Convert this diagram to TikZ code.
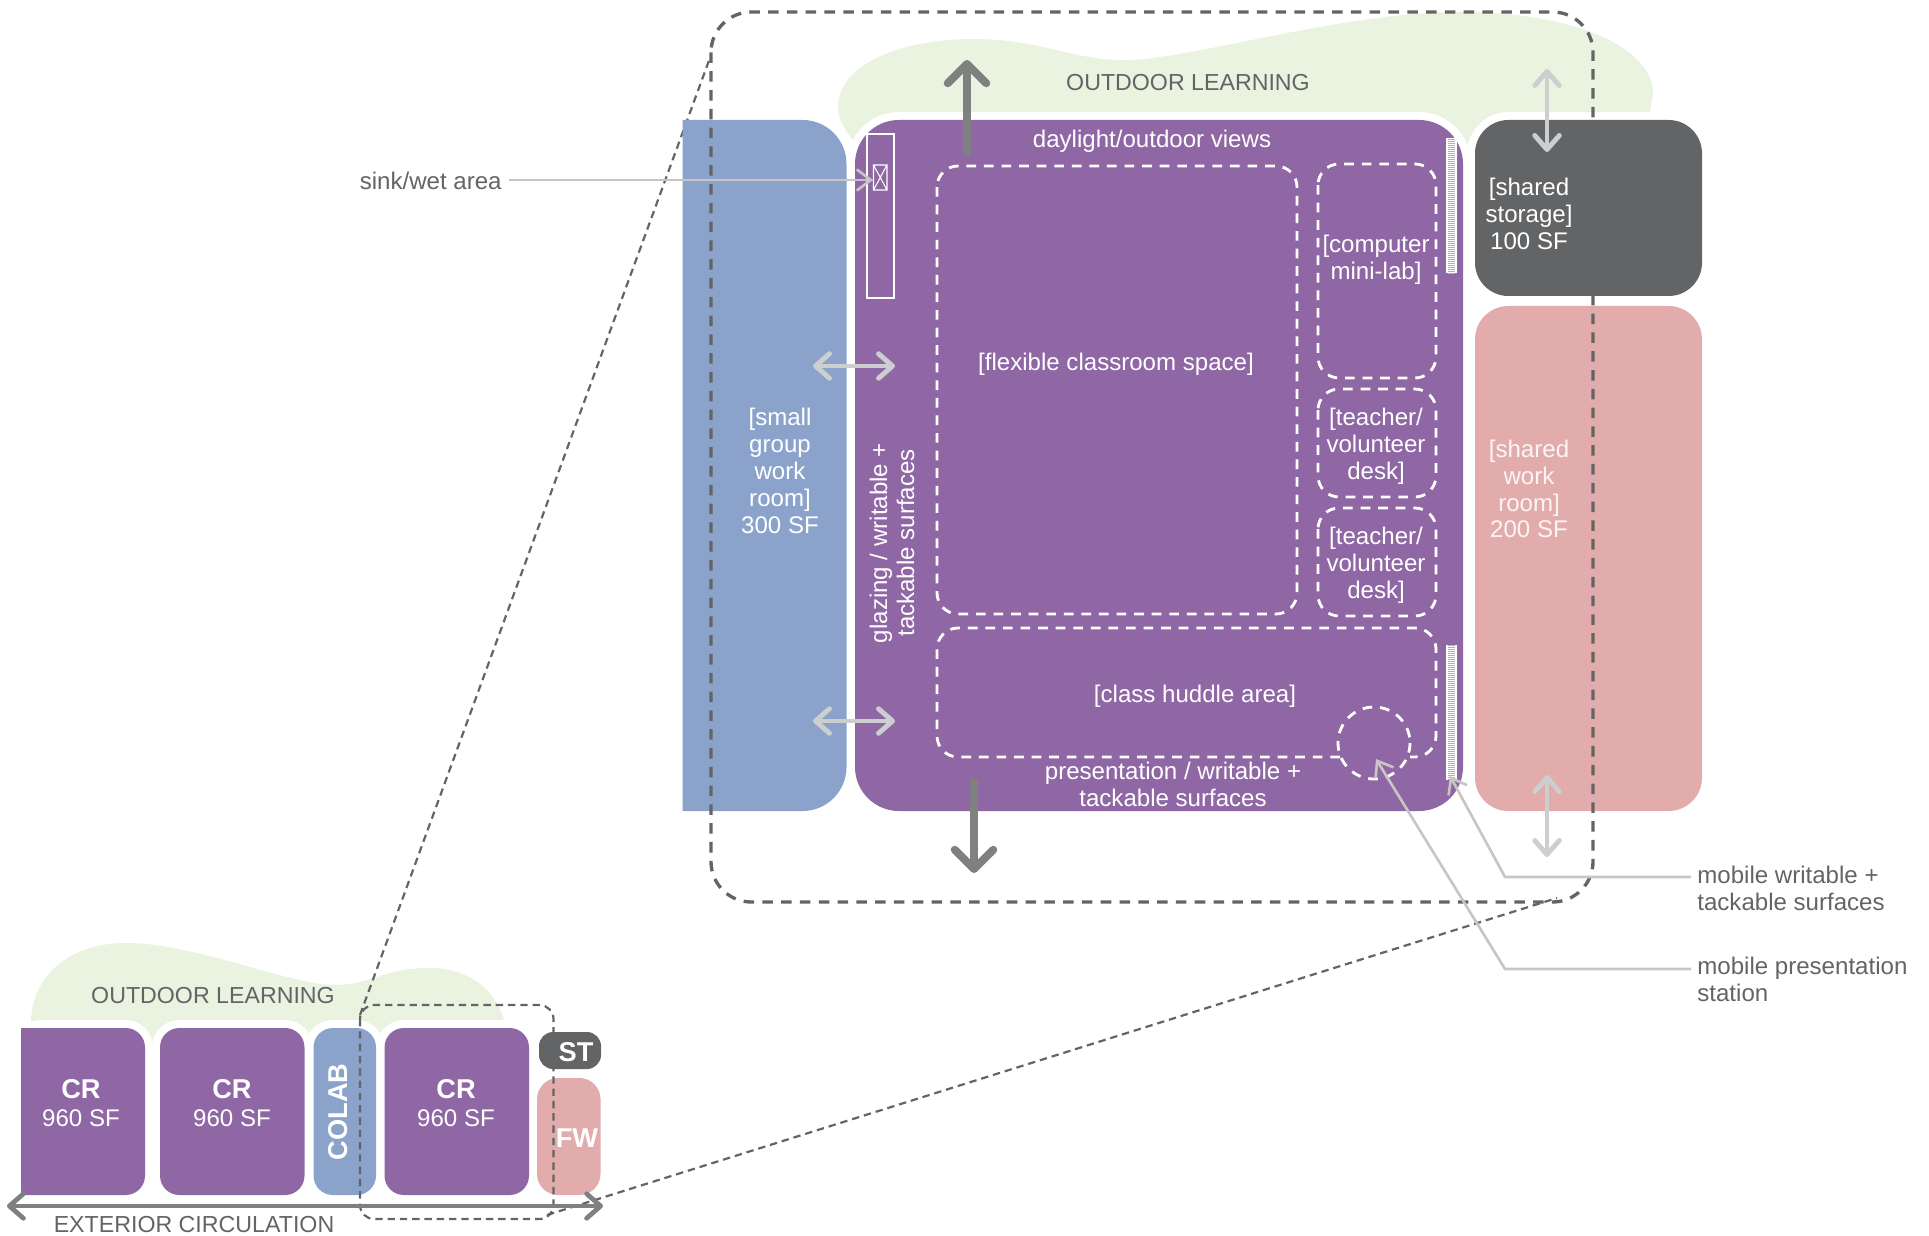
\documentclass[tikz,border=0pt]{standalone}
\usepackage{fontspec}
\setmainfont{Liberation Sans}
\usetikzlibrary{arrows.meta}

\definecolor{roompurple}{HTML}{9067A5}
\definecolor{roomblue}{HTML}{8BA3CB}
\definecolor{roomdark}{HTML}{636466}
\definecolor{roompink}{HTML}{E2ACAC}
\definecolor{outdoorgreen}{HTML}{EAF2E0}
\definecolor{arrowgray}{HTML}{7F8080}
\definecolor{arrowlight}{HTML}{CDCED0}
\definecolor{leadergray}{HTML}{C9C5C2}

\tikzset{
    labeltext/.style={font=\fontsize{13.7}{15.3}\selectfont, align=center, inner sep=0pt},
    whitetext/.style={labeltext, text=white},
    graytext/.style={labeltext, text=roomdark},
    captext/.style={labeltext, text=roomdark, font=\fontsize{13.2}{15.3}\selectfont},
    boldtext/.style={inner sep=0pt, text=white, font=\fontsize{15.5}{18}\selectfont\bfseries},
    halo/.style={draw=white, line width=9.07pt},
    zone/.style={draw=white, line width=1.6pt, dash pattern=on 5.5pt off 4.5pt},
    bigarrow/.style={arrowgray, line width=4.5pt, line cap=round, -{Straight Barb[length=11pt, width=22pt, round]}},
    moveboth/.style={arrowlight, line width=2.8pt, line cap=round, {Straight Barb[length=8pt, width=14pt, round]}-{Straight Barb[length=8pt, width=14pt, round]}},
    leader/.style={leadergray, line width=1.5pt, -{Straight Barb[length=8pt, width=12pt]}},
    bigdash/.style={roomdark, line width=1.9pt, dash pattern=on 6pt off 4.7pt},
    thindash/.style={roomdark, line width=1.25pt, dash pattern=on 4.2pt off 2.8pt}
}

\begin{document}
\begin{tikzpicture}[x=0.02cm,y=-0.02cm]
    \useasboundingbox (0,0) rectangle (1929,1236);

    % corners of the two dashed frames
    \coordinate (smalltop) at (360,1015);
    \coordinate (bigtop) at (711,55);
    \coordinate (smallbottom) at (547,1215);
    \coordinate (bigbottom) at (1557,898);

    % green areas
    \fill[outdoorgreen] (853,160) -- (853,140) .. controls (843,128) and (838,118) .. (838,107)
        .. controls (838,65) and (900,39) .. (974,39)
        .. controls (1040,39) and (1070,60) .. (1125,60)
        .. controls (1190,60) and (1340,12) .. (1460,12)
        .. controls (1580,12) and (1653,50) .. (1653,93)
        -- (1650,112) -- (1650,160) -- cycle;
    \fill[outdoorgreen] (31,1045) -- (31,1020) .. controls (33,975) and (70,943) .. (126,943)
        .. controls (195,943) and (290,985) .. (335,985)
        .. controls (370,985) and (385,968) .. (429,968)
        .. controls (470,968) and (495,990) .. (504,1020) -- (504,1045) -- cycle;

    \draw[thindash] (smalltop) -- (bigtop);

    % white margins round the rooms
    \foreach \xa/\xb in {21/145, 160/304.5, 313.5/376, 384.5/529} {
        \draw[halo, rounded corners=11pt] (\xa,1028) rectangle (\xb,1195);
    }
    \draw[halo, rounded corners=25pt] (855,120) rectangle (1463,811);
    \draw[halo, rounded corners=19pt] (1475,120) rectangle (1702,296);

    % large plan
    \fill[roomblue] (682.5,120) [rounded corners=25pt] -- (846.5,120) -- (846.5,811) -- (760,811) [sharp corners] -- (682.5,811) -- cycle;
    \fill[roompurple, rounded corners=25pt] (855,120) rectangle (1463,811);
    \fill[roompink, rounded corners=19pt] (1475,306) rectangle (1702,811);

    % small plan
    \fill[roompurple] (21,1028) [rounded corners=11pt] -- (145,1028) -- (145,1195) -- (80,1195) [sharp corners] -- (21,1195) -- cycle;
    \fill[roompurple, rounded corners=11pt] (160,1028) rectangle (304.5,1195);
    \fill[roomblue, rounded corners=11pt] (313.5,1028) rectangle (376,1195);
    \fill[roompurple, rounded corners=11pt] (384.5,1028) rectangle (529,1195);
    \fill[roompink, rounded corners=12pt] (537,1078) rectangle (600.5,1195);

    \draw[bigdash, rounded corners=23pt] (711,12) rectangle (1593,902);
    \draw[thindash, rounded corners=8pt] (360,1005) rectangle (553.5,1219);
    \draw[thindash] (smallbottom) -- (bigbottom);

    \fill[roomdark, rounded corners=19pt] (1475,120) rectangle (1702,296);
    \fill[roomdark, rounded corners=8pt] (539,1032) rectangle (601,1069);

    % inside the classroom
    \draw[white, line width=1.2pt] (867,134) rectangle (894,298);
    \draw[white, line width=0.6pt] (873.5,165) rectangle (887,190) (873.5,165) -- (887,190) (873.5,190) -- (887,165);
    \draw[zone, rounded corners=12pt] (937,166) rectangle (1297,614);
    \draw[zone, rounded corners=12pt] (1318,164) rectangle (1436,378);
    \draw[zone, rounded corners=12pt] (1318,389) rectangle (1436,497);
    \draw[zone, rounded corners=12pt] (1318,508) rectangle (1436,616);
    \draw[zone, rounded corners=12pt] (1340,757) -- (937,757) -- (937,628) -- (1436,628) -- (1436,757) -- (1410,757);
    \draw[zone] (1374,743) circle (36);

    \foreach \ya/\yb in {138/273, 645/780} {
        \fill[white] (1446,\ya) rectangle (1457,\yb);
        \foreach \yl in {\ya,...,\yb} {
            \ifodd\yl \draw[roompurple!60, line width=0.4pt] (1448,\yl) -- (1455,\yl); \fi
        }
    }

    % arrows
    \coordinate (upstart) at (967,152);
    \coordinate (upend) at (967,60);
    \coordinate (downstart) at (974,782);
    \coordinate (downend) at (974,873);
    \draw[bigarrow] (upstart) -- (upend);
    \draw[bigarrow] (downstart) -- (downend);
    \draw[moveboth] (813,366) -- (895,366);
    \draw[moveboth] (813,721) -- (895,721);
    \draw[moveboth] (1547,69) -- (1547,152);
    \draw[moveboth] (1547,775) -- (1547,857);
    \draw[arrowgray, line width=2.7pt, line cap=round, {Straight Barb[length=8pt, width=14pt, round]}-{Straight Barb[length=8pt, width=14pt, round]}] (7,1206) -- (603,1206);

    % labels
    \node[captext] (outdoorbig) at (1188,83) {OUTDOOR LEARNING};
    \node[whitetext] (views) at (1152,141) {daylight/outdoor views};
    \node[whitetext] (flexible) at (1116,364) {[flexible classroom space]};
    \node[whitetext] (minilab) at (1376,260) {[computer\\mini-lab]};
    \node[whitetext] (deskone) at (1376,446) {[teacher/\\volunteer\\desk]};
    \node[whitetext] (desktwo) at (1376,565) {[teacher/\\volunteer\\desk]};
    \node[whitetext] (huddle) at (1195,696) {[class huddle area]};
    \node[whitetext] (presentation) at (1173,784) {presentation / writable +\\tackable surfaces};
    \node[whitetext, rotate=90] (glazing) at (892,543) {glazing / writable +\\tackable surfaces};
    \node[whitetext] (smallgroup) at (780,471) {[small\\group\\work\\room]\\300 SF};
    \node[whitetext] (storage) at (1529,214) {[shared\\storage]\\100 SF};
    \node[labeltext, text=white!88!roompink] (workroom) at (1529,489) {[shared\\work\\room]\\200 SF};

    \node[graytext, anchor=east, inner xsep=4pt] (sinklabel) at (509,181) {sink/wet area};
    \node[graytext, anchor=west, align=left] (writablelabel) at (1697,888) {mobile writable +\\tackable surfaces};
    \node[graytext, anchor=west, align=left] (stationlabel) at (1697,979) {mobile presentation\\station};

    \coordinate (sinktip) at (873,180);
    \coordinate (writableend) at (1691,877);
    \coordinate (writablebend) at (1505,877);
    \coordinate (writabletip) at (1450,776);
    \coordinate (stationend) at (1691,969);
    \coordinate (stationbend) at (1505,969);
    \coordinate (stationtip) at (1376,759);
    \draw[leader] (sinktip -| sinklabel.east) -- (sinktip);
    \draw[leader] (writableend) -- (writablebend) -- (writabletip);
    \draw[leader] (stationend) -- (stationbend) -- (stationtip);

    \node[captext] (outdoorsmall) at (213,996) {OUTDOOR LEARNING};
    \node[captext] (exterior) at (194,1225) {EXTERIOR CIRCULATION};
    \foreach \name/\xc in {crone/81, crtwo/232, crthree/456} {
        \node[boldtext] (\name) at (\xc,1089) {CR};
        \node[whitetext] (\name area) at (\xc,1118) {960 SF};
    }
    \node[boldtext, rotate=90] (colab) at (338,1112) {COLAB};
    \node[boldtext] (st) at (576,1052) {ST};
    \node[boldtext] (fw) at (577,1138) {FW};
\end{tikzpicture}
\end{document}
